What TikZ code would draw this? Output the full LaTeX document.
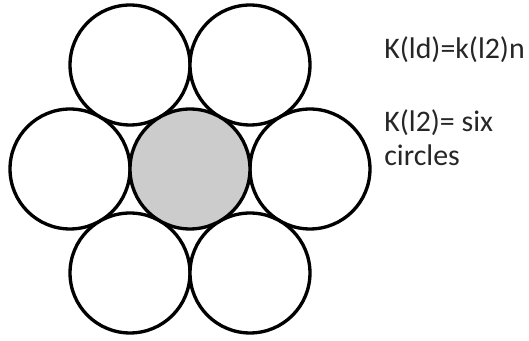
\documentclass[tikz,border=0pt]{standalone}
\usepackage{fontspec}
\setmainfont{Carlito}
\begin{document}
\begin{tikzpicture}[x=0.02cm,y=-0.02cm]
        \tikzstyle{disc}=[circle,draw=black,line width=1.9pt,fill=white,inner sep=0pt,minimum size=2.4cm]
        \tikzstyle{label}=[anchor=base west,inner sep=0pt,text=black!85,font=\fontsize{17}{19}\selectfont]
        \useasboundingbox (0,0) rectangle (529,341);
       \begin{scope}
         \node [disc] (c1) at (130,65) {};
         \node [disc] (c2) at (250,65) {};
         \node [disc] (c3) at (70,169) {};
         \node [disc] (c4) at (310,169) {};
         \node [disc] (c5) at (130,273) {};
         \node [disc] (c6) at (250,273) {};
         \node [disc,fill=black!20] (c0) at (190,169) {};
        \end{scope}
         \node [label] (t1) at (384,59) {K(ld)=k(l2)n};
         \node [label] (t2) at (384,132) {K(l2)= six};
         \node [label] (t3) at (384,166) {circles};
      \end{tikzpicture}
\end{document}
